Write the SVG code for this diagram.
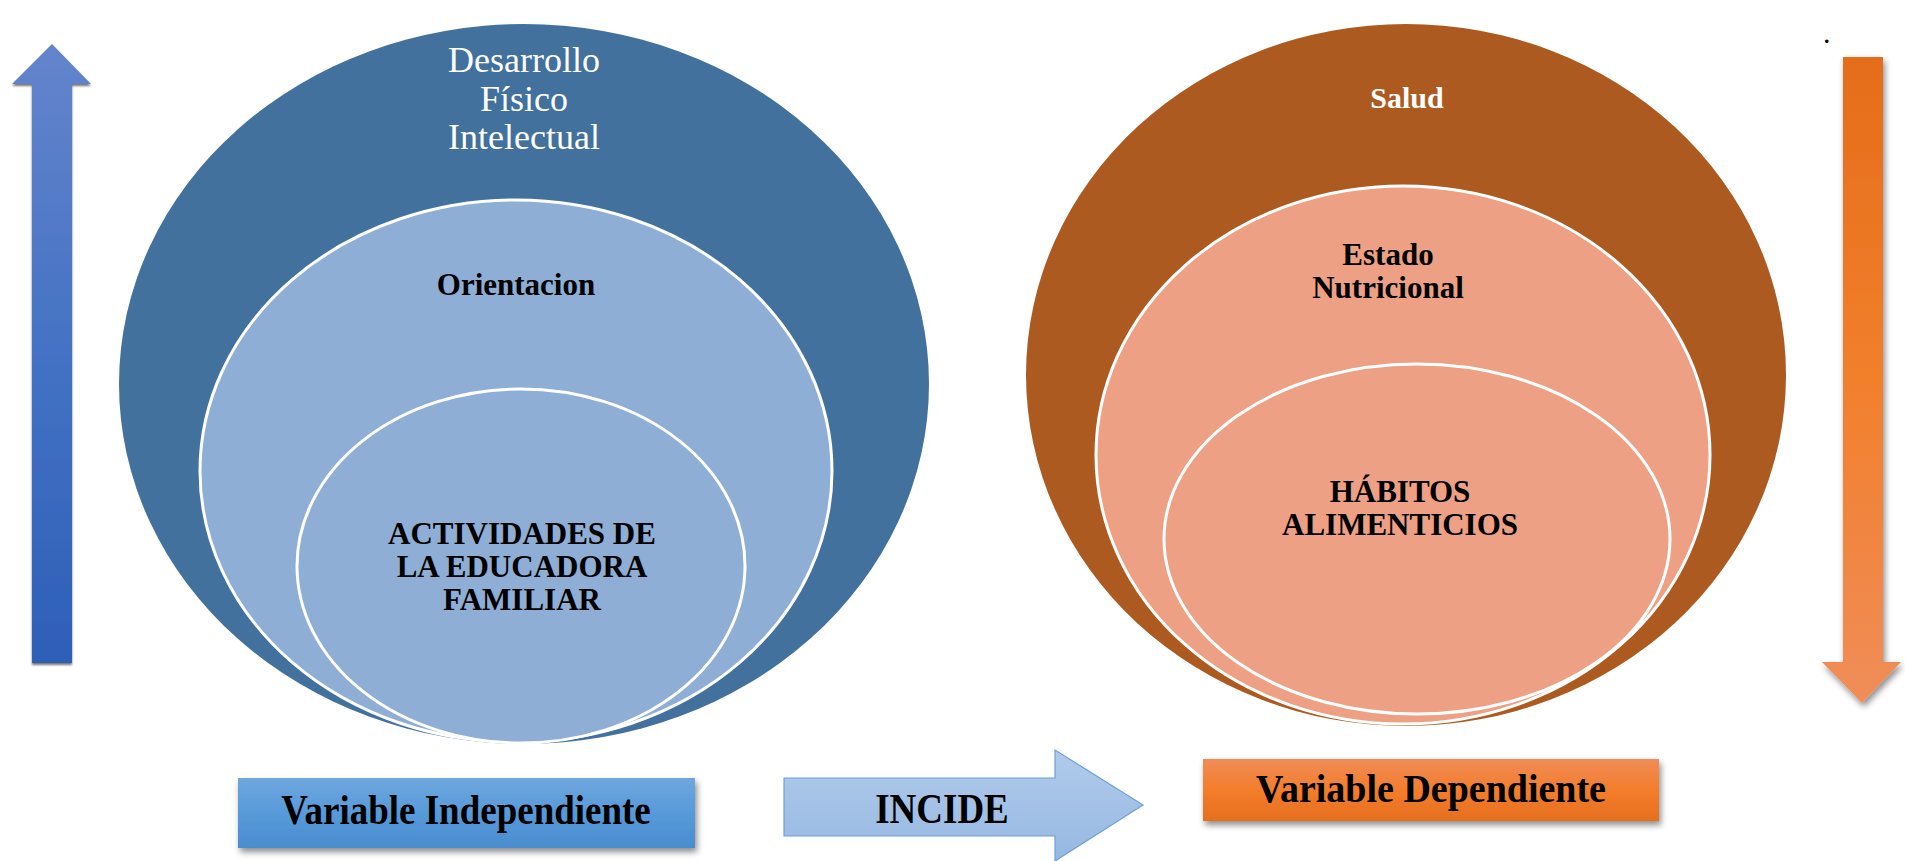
<svg xmlns="http://www.w3.org/2000/svg" width="1905" height="861" viewBox="0 0 1905 861">
<style>
.serif{font-family:"Liberation Serif","Times New Roman",serif}
.b{font-weight:bold;fill:#000;text-anchor:middle}
.w{fill:#fff;text-anchor:middle}
.ring{stroke:#fff;stroke-width:3}
</style>
<defs>
<linearGradient id="gUp" x1="0" y1="0" x2="0" y2="1"><stop offset="0" stop-color="#6584cc"/><stop offset="0.5" stop-color="#4472c4"/><stop offset="1" stop-color="#2e5fb7"/></linearGradient>
<linearGradient id="gDown" x1="0" y1="0" x2="0" y2="1"><stop offset="0" stop-color="#e46d1a"/><stop offset="0.5" stop-color="#f27f2c"/><stop offset="1" stop-color="#f08d58"/></linearGradient>
<linearGradient id="gInd" x1="0" y1="0" x2="0" y2="1"><stop offset="0" stop-color="#6fa7de"/><stop offset="0.5" stop-color="#579ad9"/><stop offset="1" stop-color="#4a8dd0"/></linearGradient>
<linearGradient id="gDep" x1="0" y1="0" x2="0" y2="1"><stop offset="0" stop-color="#f08c57"/><stop offset="0.5" stop-color="#f37d2c"/><stop offset="1" stop-color="#e56f1e"/></linearGradient>
<linearGradient id="gInc" x1="0" y1="0" x2="0" y2="1"><stop offset="0" stop-color="#b1cbeb"/><stop offset="1" stop-color="#96b8e2"/></linearGradient>
<filter id="sh" x="-10%" y="-10%" width="130%" height="140%"><feDropShadow dx="2" dy="4" stdDeviation="3" flood-color="#000" flood-opacity="0.45"/></filter>
<filter id="shA" x="-30%" y="-5%" width="160%" height="110%"><feDropShadow dx="0" dy="2" stdDeviation="1" flood-color="#000" flood-opacity="0.55"/></filter>
</defs>

<g id="connectors">
<path id="arrow-up" filter="url(#shA)" fill="url(#gUp)" d="M52,44 L91,84 L72,84 L72,663 L32,663 L32,84 L12,84 Z"/>
<path id="arrow-down" filter="url(#sh)" fill="url(#gDown)" d="M1843,57 L1883,57 L1883,662 L1901,662 L1862,703 L1822,662 L1843,662 Z"/>
</g>

<g id="left-outer">
<ellipse cx="524" cy="384" rx="405" ry="360" fill="#41719c"/>
<text class="serif w" font-size="36" x="524" y="72">Desarrollo</text>
<text class="serif w" font-size="36" x="524" y="111">Físico</text>
<text class="serif w" font-size="36" x="524" y="149">Intelectual</text>
</g>
<g id="left-middle">
<ellipse class="ring" cx="516" cy="471" rx="316" ry="271" fill="#8eaed6"/>
<text class="serif b" font-size="31" x="516" y="295">Orientacion</text>
</g>
<g id="left-inner">
<ellipse class="ring" cx="521" cy="566" rx="224" ry="177" fill="#8eaed6"/>
<text class="serif b" font-size="31" x="522" y="544">ACTIVIDADES DE</text>
<text class="serif b" font-size="31" x="522" y="577">LA EDUCADORA</text>
<text class="serif b" font-size="31" x="522" y="610">FAMILIAR</text>
</g>

<g id="right-outer">
<ellipse cx="1406" cy="375" rx="380" ry="351" fill="#ad5a21"/>
<text class="serif w" font-size="30" font-weight="bold" x="1407" y="108">Salud</text>
</g>
<g id="right-middle">
<ellipse class="ring" cx="1403" cy="455" rx="307" ry="269" fill="#eda083"/>
<text class="serif b" font-size="31" x="1388" y="265">Estado</text>
<text class="serif b" font-size="31" x="1388" y="298">Nutricional</text>
</g>
<g id="right-inner">
<ellipse class="ring" cx="1417" cy="539" rx="253" ry="175" fill="#eda083"/>
<text class="serif b" font-size="31" x="1400" y="502">HÁBITOS</text>
<text class="serif b" font-size="31" x="1400" y="535">ALIMENTICIOS</text>
</g>

<g id="var-independiente">
<rect x="238" y="778" width="457" height="70" fill="url(#gInd)" filter="url(#sh)"/>
<text class="serif b" font-size="37" x="466" y="0" transform="translate(0,824) scale(1,1.15)">Variable Independiente</text>
</g>
<g id="incide">
<path d="M784,778 L1055,778 L1055,750 L1143,805 L1055,861 L1055,836 L784,836 Z" fill="url(#gInc)" stroke="#6f9fd6" stroke-width="1.2"/>
<text class="serif b" font-size="37" x="942" y="0" transform="translate(0,823) scale(1,1.15)">INCIDE</text>
</g>
<g id="var-dependiente">
<rect x="1203" y="759" width="456" height="62" fill="url(#gDep)" filter="url(#sh)"/>
<text class="serif b" font-size="38" x="1431" y="0" transform="translate(0,802) scale(1,1.06)">Variable Dependiente</text>
</g>
<g id="dot"><text class="serif" font-size="30" x="1823" y="43" fill="#000">.</text></g>
</svg>
